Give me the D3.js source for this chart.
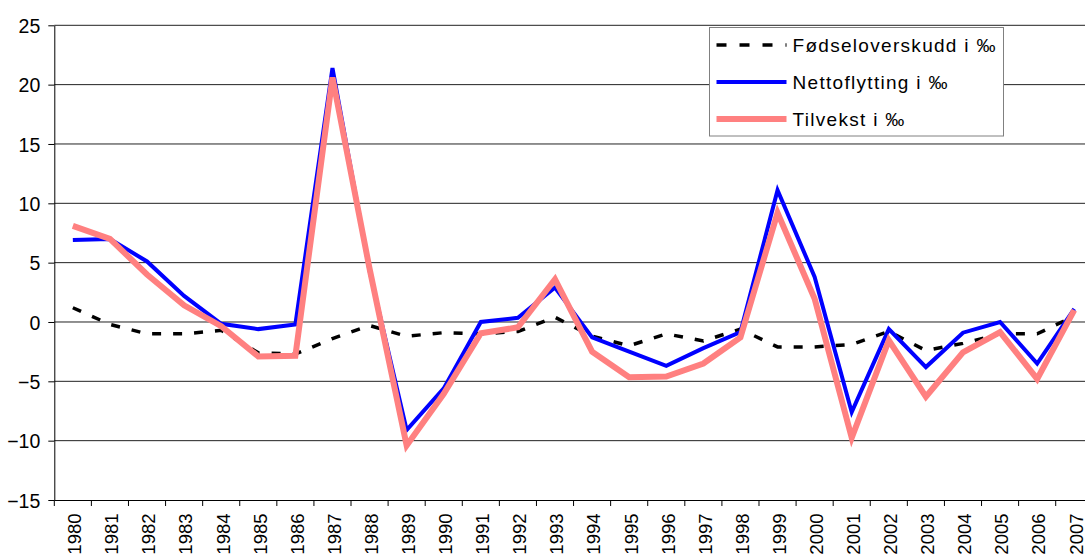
<!DOCTYPE html>
<html>
<head>
<meta charset="utf-8">
<script src="https://cdn.jsdelivr.net/npm/d3@7"></script>
<style>
  html, body { margin: 0; padding: 0; background: #fff; }
  svg { display: block; font-family: "Liberation Sans", Arial, sans-serif; }
</style>
</head>
<body>
<svg id="chart" width="1085" height="556"></svg>
<script>
// Population change per 1000 inhabitants, 1980–2007
const years = [1980, 1981, 1982, 1983, 1984, 1985, 1986, 1987, 1988, 1989,
               1990, 1991, 1992, 1993, 1994, 1995, 1996, 1997, 1998, 1999,
               2000, 2001, 2002, 2003, 2004, 2005, 2006, 2007];

const fodselsoverskudd = [1.2, -0.2, -1.0, -1.0, -0.7, -2.6, -2.7, -1.4, -0.3, -1.2,
                          -0.9, -1.0, -0.8, 0.4, -1.2, -2.0, -1.0, -1.6, -0.6, -2.1,
                          -2.1, -1.9, -0.8, -2.4, -1.8, -1.0, -1.0, 0.5];

const nettoflytting = [6.9, 7.0, 5.1, 2.2, -0.15, -0.6, -0.2, 21.4, 4.3, -9.1,
                       -5.6, 0.0, 0.35, 2.9, -1.3, -2.5, -3.7, -2.2, -0.85, 11.1,
                       3.8, -7.6, -0.6, -3.8, -0.9, 0.0, -3.5, 1.1];

const tilvekst = [8.1, 7.0, 4.0, 1.4, -0.35, -2.9, -2.85, 20.6, 4.5, -10.4,
                  -6.05, -0.95, -0.45, 3.6, -2.5, -4.65, -4.6, -3.5, -1.3, 9.2,
                  1.95, -9.75, -1.55, -6.3, -2.55, -0.85, -4.8, 1.0];

const yTicks = [-15, -10, -5, 0, 5, 10, 15, 20, 25];
const gridValues = [-10, -5, 0, 5, 10, 15, 20, 25];

const seriesNames = ["Fødseloverskudd i ‰", "Nettoflytting i ‰", "Tilvekst i ‰"];

const svg = d3.select("#chart");

const plotLeft = 54.3, plotRight = 1092.8, plotTop = 25.3, plotBottom = 500;

const x = d3.scaleBand().domain(years).range([plotLeft, plotRight]).padding(0);
const y = d3.scaleLinear().domain([-15, 25]).range([plotBottom, plotTop]);
const cx = d => x(d) + x.bandwidth() / 2;

// horizontal gridlines
svg.append("g")
  .selectAll("line")
  .data(gridValues)
  .join("line")
  .attr("x1", plotLeft).attr("x2", plotRight)
  .attr("y1", d => y(d)).attr("y2", d => y(d))
  .attr("stroke", "#222").attr("stroke-width", 1);

// y axis
const yAxis = svg.append("g")
  .attr("transform", `translate(${plotLeft},0)`)
  .call(d3.axisLeft(y).tickValues(yTicks).tickSize(6).tickSizeOuter(0).tickPadding(0));
yAxis.select(".domain").attr("stroke", "#000");
yAxis.selectAll(".tick line").attr("stroke", "#000");
yAxis.selectAll("text")
  .attr("x", -14)
  .attr("dy", "0.36em")
  .attr("fill", "#000")
  .style("font-size", "19.5px")
  .style("font-family", "'Liberation Sans', Arial, sans-serif");

// x axis: baseline, ticks at category boundaries, rotated labels
const xAxis = svg.append("g")
  .attr("transform", `translate(0,${plotBottom})`)
  .call(d3.axisBottom(x).tickSize(0).tickSizeOuter(0));
xAxis.select(".domain").attr("stroke", "#000");
xAxis.selectAll("text")
  .attr("transform", "rotate(-90)")
  .attr("x", -13.5)
  .attr("y", 0)
  .attr("dy", "0.45em")
  .attr("text-anchor", "end")
  .attr("fill", "#000")
  .style("font-size", "18.5px")
  .style("font-family", "'Liberation Sans', Arial, sans-serif");

svg.append("g")
  .selectAll("line")
  .data(years.map(d => x(d)).concat([plotRight]))
  .join("line")
  .attr("x1", d => d).attr("x2", d => d)
  .attr("y1", plotBottom).attr("y2", plotBottom + 6)
  .attr("stroke", "#000");

// series lines
const line = d3.line().x((d, i) => cx(years[i])).y(d => y(d));

svg.append("path")
  .datum(fodselsoverskudd)
  .attr("d", line)
  .attr("fill", "none")
  .attr("stroke", "#000")
  .attr("stroke-width", 3.5)
  .attr("stroke-dasharray", "9,12");

svg.append("path")
  .datum(nettoflytting)
  .attr("d", line)
  .attr("fill", "none")
  .attr("stroke", "#0000ff")
  .attr("stroke-width", 4)
  .attr("stroke-linejoin", "miter");

svg.append("path")
  .datum(tilvekst)
  .attr("d", line)
  .attr("fill", "none")
  .attr("stroke", "#ff8080")
  .attr("stroke-width", 6)
  .attr("stroke-linejoin", "miter");

// legend
const legend = svg.append("g");
legend.append("rect")
  .attr("x", 709.5).attr("y", 27.5)
  .attr("width", 294).attr("height", 108.5)
  .attr("fill", "#fff")
  .attr("stroke", "#808080").attr("stroke-width", 1);

const legendStyles = [
  { stroke: "#000", width: 3.5, dash: "10,13" },
  { stroke: "#0000ff", width: 4, dash: null },
  { stroke: "#ff8080", width: 6, dash: null }
];
const rowY = [45, 82, 119];

seriesNames.forEach((name, i) => {
  const st = legendStyles[i];
  legend.append("line")
    .attr("x1", 716.5).attr("x2", 786.5)
    .attr("y1", rowY[i]).attr("y2", rowY[i])
    .attr("stroke", st.stroke)
    .attr("stroke-width", st.width)
    .attr("stroke-dasharray", st.dash);
  legend.append("text")
    .attr("x", 792.5)
    .attr("y", rowY[i])
    .attr("dy", "0.36em")
    .attr("fill", "#000")
    .style("font-size", "19px")
    .style("letter-spacing", "1.3px")
    .text(name);
});
</script>
</body>
</html>
